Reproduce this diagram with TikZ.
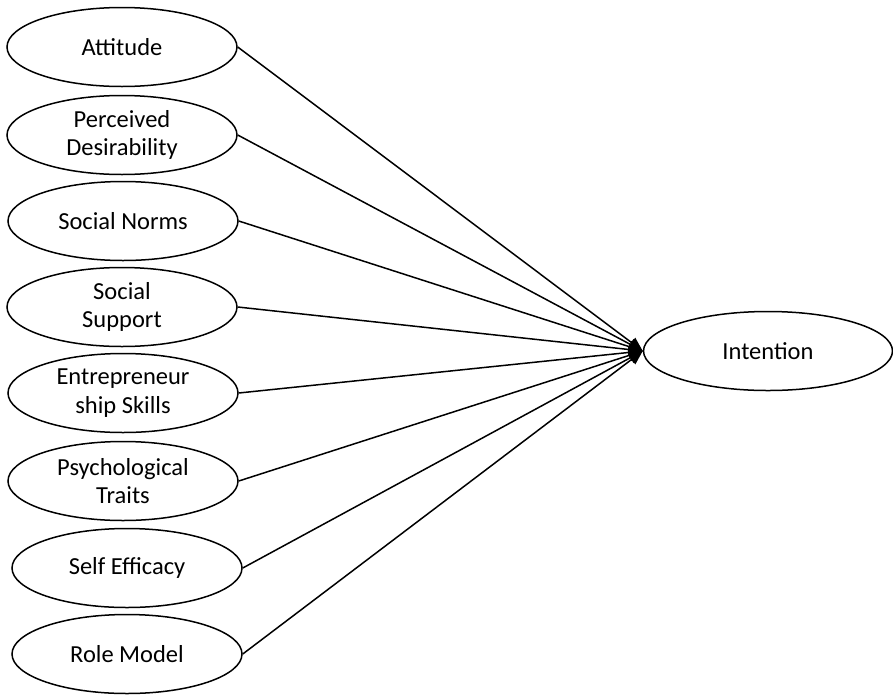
\documentclass[tikz,border=0pt]{standalone}
\usepackage{fontspec}
\setmainfont{Carlito}
\usetikzlibrary{shapes.geometric,arrows.meta}
\tikzset{
  var/.style={ellipse,draw,line width=1.5pt,minimum width=230pt,minimum height=79pt,inner sep=0pt,align=center,font=\fontsize{24.5}{28.5}\selectfont},
  link/.style={line width=1.5pt,-{Triangle[length=14pt,width=12pt]}}
}
\begin{document}
\begin{tikzpicture}[x=1pt,y=-1pt]
\useasboundingbox (0,0) rectangle (893,694);
\node[var] (att) at (122,47) {Attitude};
\node[var] (pd) at (122,135) {Perceived\\Desirability};
\node[var] (sn) at (123,221) {Social Norms};
\node[var] (ss) at (122,307) {Social\\Support};
\node[var] (es) at (123,393) {Entrepreneur\\ship Skills};
\node[var] (pt) at (123,481) {Psychological\\Traits};
\node[var] (se) at (127,568) {Self Efficacy};
\node[var] (rm) at (127,654) {Role Model};
\node[var,minimum width=249pt] (int) at (768,351) {Intention};
\foreach \n in {att,pd,sn,ss,es,pt,se,rm}
  \draw[link] (\n.east) -- (int.west);
\end{tikzpicture}
\end{document}
